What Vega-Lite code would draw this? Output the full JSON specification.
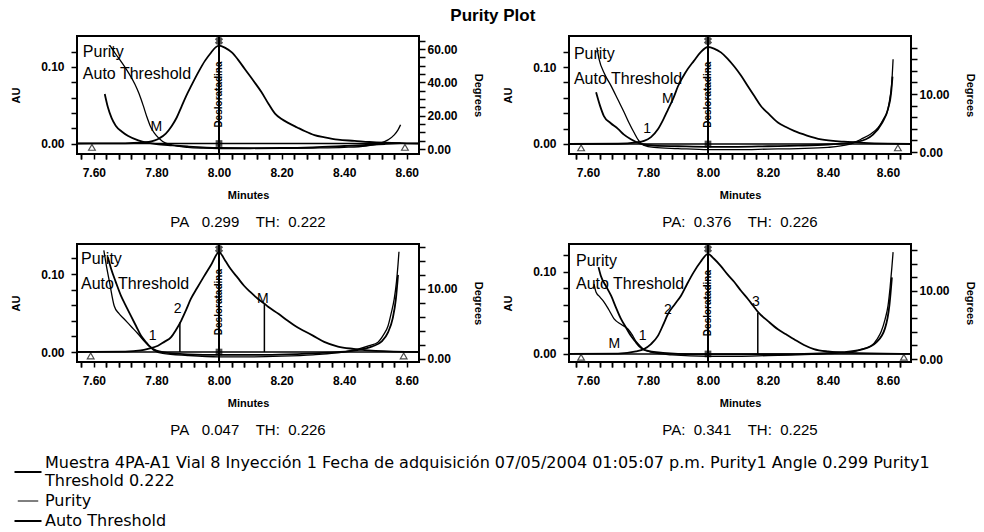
{
  "$schema": "https://vega.github.io/schema/vega-lite/v6.json",
  "background": "white",
  "padding": {"left": 9, "top": 6, "right": 0, "bottom": 0},
  "title": {"text": "Purity Plot", "fontSize": 17, "fontWeight": "bold", "font": "Liberation Sans", "color": "black", "anchor": "middle", "offset": 9},
  "bounds": "flush",
  "columns": 2,
  "spacing": {"row": 90, "column": 150},
  "datasets": {
    "chrom": [
      {"p":1,"t":7.546,"v":0},{"p":1,"t":7.7,"v":0.0003},{"p":1,"t":7.75,"v":0.001},{"p":1,"t":7.775,"v":0.002},{"p":1,"t":7.795,"v":0.004},{"p":1,"t":7.81,"v":0.007},{"p":1,"t":7.83,"v":0.013},{"p":1,"t":7.849,"v":0.023},{"p":1,"t":7.865,"v":0.034},{"p":1,"t":7.88,"v":0.048},{"p":1,"t":7.895,"v":0.062},{"p":1,"t":7.912,"v":0.076},{"p":1,"t":7.935,"v":0.094},{"p":1,"t":7.955,"v":0.108},{"p":1,"t":7.975,"v":0.119},{"p":1,"t":7.99,"v":0.126},{"p":1,"t":8.0,"v":0.128},{"p":1,"t":8.02,"v":0.125},{"p":1,"t":8.041,"v":0.119},{"p":1,"t":8.06,"v":0.11},{"p":1,"t":8.083,"v":0.097},{"p":1,"t":8.11,"v":0.082},{"p":1,"t":8.136,"v":0.067},{"p":1,"t":8.158,"v":0.052},{"p":1,"t":8.179,"v":0.039},{"p":1,"t":8.2,"v":0.032},{"p":1,"t":8.221,"v":0.027},{"p":1,"t":8.25,"v":0.021},{"p":1,"t":8.275,"v":0.016},{"p":1,"t":8.305,"v":0.011},{"p":1,"t":8.338,"v":0.008},{"p":1,"t":8.38,"v":0.005},{"p":1,"t":8.433,"v":0.0035},{"p":1,"t":8.48,"v":0.002},{"p":1,"t":8.53,"v":0.001},{"p":1,"t":8.6,"v":0.0003},{"p":1,"t":8.639,"v":0},
      {"p":2,"t":7.537,"v":0},{"p":2,"t":7.7,"v":0.0003},{"p":2,"t":7.76,"v":0.002},{"p":2,"t":7.787,"v":0.004},{"p":2,"t":7.81,"v":0.009},{"p":2,"t":7.833,"v":0.019},{"p":2,"t":7.85,"v":0.031},{"p":2,"t":7.867,"v":0.045},{"p":2,"t":7.885,"v":0.06},{"p":2,"t":7.9,"v":0.075},{"p":2,"t":7.925,"v":0.093},{"p":2,"t":7.953,"v":0.108},{"p":2,"t":7.975,"v":0.119},{"p":2,"t":8.0,"v":0.126},{"p":2,"t":8.02,"v":0.124},{"p":2,"t":8.043,"v":0.119},{"p":2,"t":8.065,"v":0.111},{"p":2,"t":8.087,"v":0.101},{"p":2,"t":8.11,"v":0.089},{"p":2,"t":8.133,"v":0.075},{"p":2,"t":8.155,"v":0.062},{"p":2,"t":8.177,"v":0.049},{"p":2,"t":8.2,"v":0.04},{"p":2,"t":8.233,"v":0.028},{"p":2,"t":8.26,"v":0.022},{"p":2,"t":8.287,"v":0.017},{"p":2,"t":8.33,"v":0.011},{"p":2,"t":8.377,"v":0.006},{"p":2,"t":8.453,"v":0.003},{"p":2,"t":8.52,"v":0.0015},{"p":2,"t":8.6,"v":0.0005},{"p":2,"t":8.677,"v":0},
      {"p":3,"t":7.546,"v":0},{"p":3,"t":7.7,"v":0.0005},{"p":3,"t":7.75,"v":0.002},{"p":3,"t":7.773,"v":0.004},{"p":3,"t":7.805,"v":0.008},{"p":3,"t":7.825,"v":0.013},{"p":3,"t":7.847,"v":0.019},{"p":3,"t":7.862,"v":0.028},{"p":3,"t":7.879,"v":0.04},{"p":3,"t":7.895,"v":0.054},{"p":3,"t":7.91,"v":0.068},{"p":3,"t":7.93,"v":0.082},{"p":3,"t":7.952,"v":0.097},{"p":3,"t":7.975,"v":0.112},{"p":3,"t":8.0,"v":0.128},{"p":3,"t":8.02,"v":0.117},{"p":3,"t":8.038,"v":0.106},{"p":3,"t":8.06,"v":0.095},{"p":3,"t":8.08,"v":0.085},{"p":3,"t":8.1,"v":0.077},{"p":3,"t":8.125,"v":0.068},{"p":3,"t":8.145,"v":0.062},{"p":3,"t":8.157,"v":0.058},{"p":3,"t":8.19,"v":0.049},{"p":3,"t":8.22,"v":0.04},{"p":3,"t":8.245,"v":0.033},{"p":3,"t":8.272,"v":0.027},{"p":3,"t":8.3,"v":0.021},{"p":3,"t":8.336,"v":0.013},{"p":3,"t":8.38,"v":0.007},{"p":3,"t":8.43,"v":0.004},{"p":3,"t":8.5,"v":0.0015},{"p":3,"t":8.639,"v":0},
      {"p":4,"t":7.537,"v":0},{"p":4,"t":7.7,"v":0.0005},{"p":4,"t":7.76,"v":0.003},{"p":4,"t":7.787,"v":0.006},{"p":4,"t":7.81,"v":0.012},{"p":4,"t":7.833,"v":0.022},{"p":4,"t":7.85,"v":0.035},{"p":4,"t":7.867,"v":0.049},{"p":4,"t":7.89,"v":0.061},{"p":4,"t":7.91,"v":0.071},{"p":4,"t":7.93,"v":0.085},{"p":4,"t":7.953,"v":0.1},{"p":4,"t":7.975,"v":0.112},{"p":4,"t":8.0,"v":0.122},{"p":4,"t":8.02,"v":0.116},{"p":4,"t":8.043,"v":0.107},{"p":4,"t":8.065,"v":0.097},{"p":4,"t":8.087,"v":0.088},{"p":4,"t":8.11,"v":0.077},{"p":4,"t":8.133,"v":0.067},{"p":4,"t":8.15,"v":0.059},{"p":4,"t":8.167,"v":0.051},{"p":4,"t":8.2,"v":0.04},{"p":4,"t":8.233,"v":0.03},{"p":4,"t":8.26,"v":0.024},{"p":4,"t":8.287,"v":0.018},{"p":4,"t":8.32,"v":0.011},{"p":4,"t":8.353,"v":0.006},{"p":4,"t":8.4,"v":0.003},{"p":4,"t":8.48,"v":0.0012},{"p":4,"t":8.677,"v":0}
    ],
    "angles": [
      {"p":1,"s":"Purity","t":7.652,"v":62},{"p":1,"s":"Purity","t":7.67,"v":57},{"p":1,"s":"Purity","t":7.689,"v":52},{"p":1,"s":"Purity","t":7.71,"v":46},{"p":1,"s":"Purity","t":7.731,"v":39},{"p":1,"s":"Purity","t":7.745,"v":33},{"p":1,"s":"Purity","t":7.758,"v":26},{"p":1,"s":"Purity","t":7.77,"v":19},{"p":1,"s":"Purity","t":7.78,"v":14},{"p":1,"s":"Purity","t":7.79,"v":10.5},{"p":1,"s":"Purity","t":7.8,"v":8},{"p":1,"s":"Purity","t":7.82,"v":4.5},{"p":1,"s":"Purity","t":7.85,"v":2.4},{"p":1,"s":"Purity","t":7.9,"v":1.0},{"p":1,"s":"Purity","t":7.95,"v":0.5},{"p":1,"s":"Purity","t":8.0,"v":0.3},{"p":1,"s":"Purity","t":8.1,"v":0.3},{"p":1,"s":"Purity","t":8.2,"v":0.4},{"p":1,"s":"Purity","t":8.3,"v":0.6},{"p":1,"s":"Purity","t":8.4,"v":1.0},{"p":1,"s":"Purity","t":8.47,"v":1.8},{"p":1,"s":"Purity","t":8.51,"v":3.2},{"p":1,"s":"Purity","t":8.54,"v":5.5},{"p":1,"s":"Purity","t":8.56,"v":8.5},{"p":1,"s":"Purity","t":8.572,"v":11.5},{"p":1,"s":"Purity","t":8.58,"v":14.5},
      {"p":1,"s":"Auto Threshold","t":7.635,"v":33},{"p":1,"s":"Auto Threshold","t":7.645,"v":25},{"p":1,"s":"Auto Threshold","t":7.657,"v":18.5},{"p":1,"s":"Auto Threshold","t":7.67,"v":14},{"p":1,"s":"Auto Threshold","t":7.689,"v":10.5},{"p":1,"s":"Auto Threshold","t":7.71,"v":7.8},{"p":1,"s":"Auto Threshold","t":7.742,"v":5.2},{"p":1,"s":"Auto Threshold","t":7.77,"v":3.8},{"p":1,"s":"Auto Threshold","t":7.8,"v":3.0},{"p":1,"s":"Auto Threshold","t":7.85,"v":2.2},{"p":1,"s":"Auto Threshold","t":7.9,"v":1.5},{"p":1,"s":"Auto Threshold","t":8.0,"v":0.6},{"p":1,"s":"Auto Threshold","t":8.1,"v":0.5},{"p":1,"s":"Auto Threshold","t":8.2,"v":0.6},{"p":1,"s":"Auto Threshold","t":8.3,"v":1.0},{"p":1,"s":"Auto Threshold","t":8.4,"v":1.8},{"p":1,"s":"Auto Threshold","t":8.47,"v":2.4},{"p":1,"s":"Auto Threshold","t":8.53,"v":3.0},{"p":1,"s":"Auto Threshold","t":8.58,"v":3.5},
      {"p":2,"s":"Purity","t":7.63,"v":18},{"p":2,"s":"Purity","t":7.637,"v":16},{"p":2,"s":"Purity","t":7.655,"v":13.5},{"p":2,"s":"Purity","t":7.677,"v":11.4},{"p":2,"s":"Purity","t":7.7,"v":9},{"p":2,"s":"Purity","t":7.72,"v":6.9},{"p":2,"s":"Purity","t":7.737,"v":5},{"p":2,"s":"Purity","t":7.753,"v":3.4},{"p":2,"s":"Purity","t":7.77,"v":1.9},{"p":2,"s":"Purity","t":7.785,"v":1.2},{"p":2,"s":"Purity","t":7.82,"v":0.8},{"p":2,"s":"Purity","t":7.9,"v":0.6},{"p":2,"s":"Purity","t":8.0,"v":0.4},{"p":2,"s":"Purity","t":8.1,"v":0.4},{"p":2,"s":"Purity","t":8.2,"v":0.5},{"p":2,"s":"Purity","t":8.3,"v":0.6},{"p":2,"s":"Purity","t":8.4,"v":0.8},{"p":2,"s":"Purity","t":8.47,"v":1.3},{"p":2,"s":"Purity","t":8.51,"v":2.2},{"p":2,"s":"Purity","t":8.545,"v":3.2},{"p":2,"s":"Purity","t":8.567,"v":4.2},{"p":2,"s":"Purity","t":8.585,"v":5.7},{"p":2,"s":"Purity","t":8.6,"v":7.4},{"p":2,"s":"Purity","t":8.607,"v":9.5},{"p":2,"s":"Purity","t":8.612,"v":11.5},{"p":2,"s":"Purity","t":8.617,"v":16},
      {"p":2,"s":"Auto Threshold","t":7.627,"v":10.3},{"p":2,"s":"Auto Threshold","t":7.64,"v":8},{"p":2,"s":"Auto Threshold","t":7.653,"v":6.2},{"p":2,"s":"Auto Threshold","t":7.675,"v":5},{"p":2,"s":"Auto Threshold","t":7.7,"v":4},{"p":2,"s":"Auto Threshold","t":7.72,"v":3},{"p":2,"s":"Auto Threshold","t":7.743,"v":2.2},{"p":2,"s":"Auto Threshold","t":7.777,"v":1.4},{"p":2,"s":"Auto Threshold","t":7.82,"v":1.1},{"p":2,"s":"Auto Threshold","t":7.9,"v":1.0},{"p":2,"s":"Auto Threshold","t":8.0,"v":0.9},{"p":2,"s":"Auto Threshold","t":8.1,"v":0.9},{"p":2,"s":"Auto Threshold","t":8.2,"v":1.0},{"p":2,"s":"Auto Threshold","t":8.3,"v":1.1},{"p":2,"s":"Auto Threshold","t":8.4,"v":1.3},{"p":2,"s":"Auto Threshold","t":8.5,"v":1.8},{"p":2,"s":"Auto Threshold","t":8.55,"v":3.0},{"p":2,"s":"Auto Threshold","t":8.58,"v":5.0},{"p":2,"s":"Auto Threshold","t":8.6,"v":7.4},{"p":2,"s":"Auto Threshold","t":8.61,"v":10},{"p":2,"s":"Auto Threshold","t":8.615,"v":13},
      {"p":3,"s":"Purity","t":7.632,"v":15.5},{"p":3,"s":"Purity","t":7.639,"v":13.6},{"p":3,"s":"Purity","t":7.65,"v":11},{"p":3,"s":"Purity","t":7.665,"v":7.6},{"p":3,"s":"Purity","t":7.68,"v":6.5},{"p":3,"s":"Purity","t":7.697,"v":5.7},{"p":3,"s":"Purity","t":7.72,"v":4.6},{"p":3,"s":"Purity","t":7.741,"v":3.6},{"p":3,"s":"Purity","t":7.76,"v":2.6},{"p":3,"s":"Purity","t":7.773,"v":2.0},{"p":3,"s":"Purity","t":7.79,"v":1.3},{"p":3,"s":"Purity","t":7.82,"v":0.8},{"p":3,"s":"Purity","t":7.9,"v":0.5},{"p":3,"s":"Purity","t":8.0,"v":0.3},{"p":3,"s":"Purity","t":8.1,"v":0.3},{"p":3,"s":"Purity","t":8.2,"v":0.4},{"p":3,"s":"Purity","t":8.3,"v":0.6},{"p":3,"s":"Purity","t":8.4,"v":1.0},{"p":3,"s":"Purity","t":8.444,"v":1.4},{"p":3,"s":"Purity","t":8.48,"v":1.9},{"p":3,"s":"Purity","t":8.508,"v":2.4},{"p":3,"s":"Purity","t":8.525,"v":3.4},{"p":3,"s":"Purity","t":8.54,"v":4.7},{"p":3,"s":"Purity","t":8.55,"v":6.5},{"p":3,"s":"Purity","t":8.56,"v":8.6},{"p":3,"s":"Purity","t":8.567,"v":11},{"p":3,"s":"Purity","t":8.572,"v":13.5},{"p":3,"s":"Purity","t":8.575,"v":15.3},
      {"p":3,"s":"Auto Threshold","t":7.645,"v":14.5},{"p":3,"s":"Auto Threshold","t":7.655,"v":12.9},{"p":3,"s":"Auto Threshold","t":7.67,"v":11},{"p":3,"s":"Auto Threshold","t":7.687,"v":9},{"p":3,"s":"Auto Threshold","t":7.7,"v":7.8},{"p":3,"s":"Auto Threshold","t":7.719,"v":6.1},{"p":3,"s":"Auto Threshold","t":7.735,"v":4.7},{"p":3,"s":"Auto Threshold","t":7.751,"v":3.3},{"p":3,"s":"Auto Threshold","t":7.765,"v":2.5},{"p":3,"s":"Auto Threshold","t":7.776,"v":1.9},{"p":3,"s":"Auto Threshold","t":7.8,"v":1.2},{"p":3,"s":"Auto Threshold","t":7.85,"v":0.8},{"p":3,"s":"Auto Threshold","t":7.95,"v":0.6},{"p":3,"s":"Auto Threshold","t":8.05,"v":0.6},{"p":3,"s":"Auto Threshold","t":8.15,"v":0.6},{"p":3,"s":"Auto Threshold","t":8.25,"v":0.7},{"p":3,"s":"Auto Threshold","t":8.35,"v":0.9},{"p":3,"s":"Auto Threshold","t":8.43,"v":1.2},{"p":3,"s":"Auto Threshold","t":8.49,"v":1.8},{"p":3,"s":"Auto Threshold","t":8.52,"v":2.5},{"p":3,"s":"Auto Threshold","t":8.54,"v":3.8},{"p":3,"s":"Auto Threshold","t":8.555,"v":5.8},{"p":3,"s":"Auto Threshold","t":8.565,"v":8.5},{"p":3,"s":"Auto Threshold","t":8.572,"v":12},
      {"p":4,"s":"Purity","t":7.62,"v":11},{"p":4,"s":"Purity","t":7.627,"v":9.8},{"p":4,"s":"Purity","t":7.64,"v":9.1},{"p":4,"s":"Purity","t":7.653,"v":8.4},{"p":4,"s":"Purity","t":7.67,"v":7.2},{"p":4,"s":"Purity","t":7.687,"v":5.9},{"p":4,"s":"Purity","t":7.71,"v":5.1},{"p":4,"s":"Purity","t":7.733,"v":4.4},{"p":4,"s":"Purity","t":7.748,"v":3.5},{"p":4,"s":"Purity","t":7.76,"v":2.6},{"p":4,"s":"Purity","t":7.772,"v":2.0},{"p":4,"s":"Purity","t":7.783,"v":1.5},{"p":4,"s":"Purity","t":7.81,"v":1.0},{"p":4,"s":"Purity","t":7.88,"v":0.6},{"p":4,"s":"Purity","t":8.0,"v":0.4},{"p":4,"s":"Purity","t":8.1,"v":0.4},{"p":4,"s":"Purity","t":8.2,"v":0.5},{"p":4,"s":"Purity","t":8.3,"v":0.6},{"p":4,"s":"Purity","t":8.4,"v":0.8},{"p":4,"s":"Purity","t":8.477,"v":1.0},{"p":4,"s":"Purity","t":8.51,"v":1.4},{"p":4,"s":"Purity","t":8.543,"v":1.9},{"p":4,"s":"Purity","t":8.565,"v":3.0},{"p":4,"s":"Purity","t":8.577,"v":4.0},{"p":4,"s":"Purity","t":8.59,"v":5.8},{"p":4,"s":"Purity","t":8.6,"v":7.8},{"p":4,"s":"Purity","t":8.607,"v":10.5},{"p":4,"s":"Purity","t":8.613,"v":13.5},{"p":4,"s":"Purity","t":8.617,"v":15.7},
      {"p":4,"s":"Auto Threshold","t":7.635,"v":13.5},{"p":4,"s":"Auto Threshold","t":7.643,"v":12.2},{"p":4,"s":"Auto Threshold","t":7.66,"v":10.7},{"p":4,"s":"Auto Threshold","t":7.677,"v":9.3},{"p":4,"s":"Auto Threshold","t":7.693,"v":7.6},{"p":4,"s":"Auto Threshold","t":7.71,"v":5.9},{"p":4,"s":"Auto Threshold","t":7.727,"v":4.6},{"p":4,"s":"Auto Threshold","t":7.743,"v":3.4},{"p":4,"s":"Auto Threshold","t":7.757,"v":2.6},{"p":4,"s":"Auto Threshold","t":7.77,"v":1.9},{"p":4,"s":"Auto Threshold","t":7.79,"v":1.3},{"p":4,"s":"Auto Threshold","t":7.85,"v":0.9},{"p":4,"s":"Auto Threshold","t":7.95,"v":0.7},{"p":4,"s":"Auto Threshold","t":8.05,"v":0.7},{"p":4,"s":"Auto Threshold","t":8.15,"v":0.7},{"p":4,"s":"Auto Threshold","t":8.25,"v":0.7},{"p":4,"s":"Auto Threshold","t":8.35,"v":0.8},{"p":4,"s":"Auto Threshold","t":8.45,"v":1.0},{"p":4,"s":"Auto Threshold","t":8.52,"v":1.5},{"p":4,"s":"Auto Threshold","t":8.56,"v":2.4},{"p":4,"s":"Auto Threshold","t":8.59,"v":4.5},{"p":4,"s":"Auto Threshold","t":8.605,"v":8},{"p":4,"s":"Auto Threshold","t":8.613,"v":12}
    ],
    "tags": [
      {"p":1,"t":7.8,"v":0.0212,"txt":"M"},
      {"p":2,"t":7.797,"v":0.0195,"txt":"1"},{"p":2,"t":7.866,"v":0.058,"txt":"M"},
      {"p":3,"t":7.788,"v":0.021,"txt":"1"},{"p":3,"t":7.868,"v":0.055,"txt":"2"},{"p":3,"t":8.14,"v":0.068,"txt":"M"},
      {"p":4,"t":7.782,"v":0.0223,"txt":"1"},{"p":4,"t":7.866,"v":0.053,"txt":"2"},{"p":4,"t":8.16,"v":0.063,"txt":"3"},{"p":4,"t":7.688,"v":0.012,"txt":"M"}
    ],
    "drops": [
      {"p":3,"t":7.875,"v":0.038},{"p":3,"t":8.145,"v":0.0615},{"p":4,"t":8.166,"v":0.05}
    ],
    "keys": [
      {"p":1,"t":7.565,"v":0.12,"txt":"Purity"},{"p":1,"t":7.565,"v":0.091,"txt":"Auto Threshold"},
      {"p":2,"t":7.553,"v":0.117,"txt":"Purity"},{"p":2,"t":7.553,"v":0.084,"txt":"Auto Threshold"},
      {"p":3,"t":7.559,"v":0.119,"txt":"Purity"},{"p":3,"t":7.559,"v":0.087,"txt":"Auto Threshold"},
      {"p":4,"t":7.56,"v":0.113,"txt":"Purity"},{"p":4,"t":7.56,"v":0.085,"txt":"Auto Threshold"}
    ],
    "ends": [
      {"p":1,"t":7.594},{"p":1,"t":8.594},{"p":2,"t":7.577},{"p":2,"t":8.633},{"p":3,"t":7.59},{"p":3,"t":8.59},{"p":4,"t":7.577},{"p":4,"t":8.653}
    ]
  },
  "concat": [
    {
      "width": 342, "height": 118,
      "title": {"text": "PA\u00a0\u00a0 0.299\u00a0\u00a0\u00a0 TH:\u00a0 0.222", "orient": "bottom", "anchor": "middle", "offset": 15, "fontSize": 15, "fontWeight": "normal", "font": "Liberation Sans", "color": "black"},
      "resolve": {"scale": {"y": "independent"}, "axis": {"x": "independent"}},
      "layer": [
        {
          "layer": [
            {
              "data": {"name": "chrom"}, "transform": [{"filter": "datum.p == 1"}],
              "mark": {"type": "line", "strokeWidth": 1.8, "interpolate": "monotone", "clip": true},
              "encoding": {
                "x": {"field": "t", "type": "quantitative", "scale": {"domain": [7.5463, 8.639], "nice": false, "zero": false},
                  "axis": {"title": "Minutes", "orient": "bottom", "values": [7.6,7.8,8.0,8.2,8.4,8.6], "format": ".2f", "labelOverlap": false, "tickSize": 5, "labelPadding": 8, "titlePadding": 11}},
                "y": {"field": "v", "type": "quantitative", "scale": {"domain": [-0.0137, 0.1405], "nice": false, "zero": false},
                  "axis": {"title": "AU", "orient": "left", "values": [0, 0.1], "format": ".2f", "labelOverlap": false, "tickSize": 6, "labelPadding": 7, "titlePadding": 19}},
                "stroke": {"datum": "Muestra 4PA-A1 Vial 8 Inyección 1 Fecha de adquisición 07/05/2004 01:05:07 p.m. Purity1 Angle 0.299 Purity1 Threshold 0.222", "type": "nominal", "title": null,
                  "scale": {"domain": ["Muestra 4PA-A1 Vial 8 Inyección 1 Fecha de adquisición 07/05/2004 01:05:07 p.m. Purity1 Angle 0.299 Purity1 Threshold 0.222", "Purity", "Auto Threshold"], "range": ["black", "black", "black"]},
                  "legend": {"title": null, "orient": "none", "legendX": -57, "legendY": 428, "symbolType": "stroke", "symbolSize": 729, "symbolStrokeWidth": 2, "symbolStrokeColor": "black", "labelFont": "DejaVu Sans", "labelFontSize": 16, "labelColor": "black", "labelLimit": 1200, "labelOffset": 9, "rowPadding": 4,
                    "labelExpr": "datum.label == 'Purity' || datum.label == 'Auto Threshold' ? datum.label : [slice(datum.label, 0, length(datum.label) - 16), 'Threshold 0.222']",
                    "encode": {"labels": {"update": {"lineHeight": {"value": 18}, "dy": {"signal": "datum.value == 'Purity' || datum.value == 'Auto Threshold' ? 0 : -9"}}}, "symbols": {"update": {"strokeWidth": {"signal": "datum.value == 'Purity' ? 1 : 2"}, "size": {"signal": "datum.value == 'Purity' ? 420 : 729"}}}}}}
              }
            },
            {"data": {"values": [{}]}, "mark": {"type": "rule", "strokeWidth": 1.5, "color": "black"}, "encoding": {"y": {"datum": 0}}},
            {"data": {"values": [{}]}, "mark": {"type": "rule", "strokeWidth": 2, "color": "black"}, "encoding": {"x": {"datum": 8.0}}},
            {"data": {"values": [{}]}, "mark": {"type": "text", "angle": 270, "fontSize": 10, "fontWeight": "bold", "font": "Liberation Sans", "color": "black", "baseline": "middle"}, "encoding": {"x": {"datum": 8.0}, "y": {"datum": 0.064}, "text": {"value": "Desloratadina"}}},
            {"data": {"values": [{}]}, "mark": {"type": "point", "shape": "cross", "angle": 45, "size": 70, "filled": true, "color": "black"}, "encoding": {"x": {"datum": 8.0}, "y": {"datum": 0.134}}},
            {"data": {"values": [{}]}, "mark": {"type": "square", "size": 45, "color": "black"}, "encoding": {"x": {"datum": 8.0}, "y": {"datum": 0.0}}},
            {"data": {"name": "tags"}, "transform": [{"filter": "datum.p == 1"}], "mark": {"type": "text", "fontSize": 14, "font": "Liberation Sans", "color": "black"}, "encoding": {"x": {"field": "t", "type": "quantitative"}, "y": {"field": "v", "type": "quantitative"}, "text": {"field": "txt"}}},
            {"data": {"name": "keys"}, "transform": [{"filter": "datum.p == 1"}], "mark": {"type": "text", "fontSize": 16, "font": "Liberation Sans", "color": "black", "align": "left", "baseline": "middle"}, "encoding": {"x": {"field": "t", "type": "quantitative"}, "y": {"field": "v", "type": "quantitative"}, "text": {"field": "txt"}}}
          ]
        },
        {
          "layer": [
            {
              "data": {"name": "angles"}, "transform": [{"filter": "datum.p == 1"}],
              "mark": {"type": "line", "interpolate": "monotone", "clip": true},
              "encoding": {
                "x": {"field": "t", "type": "quantitative", "axis": {"orient": "bottom", "title": null, "labels": false, "tickSize": 5, "values": [7.56,7.64,7.68,7.72,7.76,7.84,7.88,7.92,7.96,8.04,8.08,8.12,8.16,8.24,8.28,8.32,8.36,8.44,8.48,8.52,8.56]}},
                "y": {"field": "v", "type": "quantitative", "scale": {"domain": [-3.0, 67.8], "nice": false, "zero": false},
                  "axis": {"title": "Degrees", "orient": "right", "values": [0,5,10,15,20,25,30,35,40,45,50,55,60,65], "labelExpr": "datum.value % 20 == 0 ? format(datum.value, '.2f') : ''", "labelOverlap": false, "tickSize": 6, "labelPadding": 2, "titlePadding": 15}},
                "stroke": {"field": "s", "type": "nominal", "title": null},
                "strokeWidth": {"field": "s", "type": "nominal", "scale": {"domain": ["Purity", "Auto Threshold"], "range": [1.3, 1.8]}, "legend": null}
              }
            }
          ]
        },
        {
          "data": {"name": "ends"}, "transform": [{"filter": "datum.p == 1"}],
          "mark": {"type": "point", "shape": "triangle-up", "size": 45, "filled": true, "fill": "white", "stroke": "black", "strokeWidth": 1.2},
          "encoding": {
            "x": {"field": "t", "type": "quantitative", "axis": {"orient": "bottom", "title": null, "labels": false, "tickSize": 5, "values": [7.56,7.64,7.68,7.72,7.76,7.84,7.88,7.92,7.96,8.04,8.08,8.12,8.16,8.24,8.28,8.32,8.36,8.44,8.48,8.52,8.56]}},
            "y": {"datum": -0.005, "scale": {"domain": [-0.0137, 0.1405], "nice": false, "zero": false}, "axis": {"orient": "left", "title": null, "labels": false, "tickSize": 6, "values": [0.02, 0.04, 0.06, 0.08, 0.12]}}
          }
        }
      ]
    },
    {
      "width": 342, "height": 118,
      "title": {"text": "PA:\u00a0 0.376\u00a0\u00a0\u00a0 TH:\u00a0 0.226", "orient": "bottom", "anchor": "middle", "offset": 15, "fontSize": 15, "fontWeight": "normal", "font": "Liberation Sans", "color": "black"},
      "resolve": {"scale": {"y": "independent"}, "axis": {"x": "independent"}},
      "layer": [
        {
          "layer": [
            {
              "data": {"name": "chrom"}, "transform": [{"filter": "datum.p == 2"}],
              "mark": {"type": "line", "strokeWidth": 1.8, "interpolate": "monotone", "clip": true},
              "encoding": {
                "x": {"field": "t", "type": "quantitative", "scale": {"domain": [7.5367, 8.6767], "nice": false, "zero": false},
                  "axis": {"title": "Minutes", "orient": "bottom", "values": [7.6,7.8,8.0,8.2,8.4,8.6], "format": ".2f", "labelOverlap": false, "tickSize": 5, "labelPadding": 8, "titlePadding": 11}},
                "y": {"field": "v", "type": "quantitative", "scale": {"domain": [-0.013, 0.1403], "nice": false, "zero": false},
                  "axis": {"title": "AU", "orient": "left", "values": [0, 0.1], "format": ".2f", "labelOverlap": false, "tickSize": 6, "labelPadding": 7, "titlePadding": 19}},
                "stroke": {"datum": "Muestra 4PA-A1 Vial 8 Inyección 1 Fecha de adquisición 07/05/2004 01:05:07 p.m. Purity1 Angle 0.299 Purity1 Threshold 0.222", "type": "nominal", "title": null}
              }
            },
            {"data": {"values": [{}]}, "mark": {"type": "rule", "strokeWidth": 1.5, "color": "black"}, "encoding": {"y": {"datum": 0}}},
            {"data": {"values": [{}]}, "mark": {"type": "rule", "strokeWidth": 2, "color": "black"}, "encoding": {"x": {"datum": 8.0}}},
            {"data": {"values": [{}]}, "mark": {"type": "text", "angle": 270, "fontSize": 10, "fontWeight": "bold", "font": "Liberation Sans", "color": "black", "baseline": "middle"}, "encoding": {"x": {"datum": 8.0}, "y": {"datum": 0.064}, "text": {"value": "Desloratadina"}}},
            {"data": {"values": [{}]}, "mark": {"type": "point", "shape": "cross", "angle": 45, "size": 70, "filled": true, "color": "black"}, "encoding": {"x": {"datum": 8.0}, "y": {"datum": 0.134}}},
            {"data": {"values": [{}]}, "mark": {"type": "square", "size": 45, "color": "black"}, "encoding": {"x": {"datum": 8.0}, "y": {"datum": 0.0}}},
            {"data": {"name": "tags"}, "transform": [{"filter": "datum.p == 2"}], "mark": {"type": "text", "fontSize": 14, "font": "Liberation Sans", "color": "black"}, "encoding": {"x": {"field": "t", "type": "quantitative"}, "y": {"field": "v", "type": "quantitative"}, "text": {"field": "txt"}}},
            {"data": {"name": "keys"}, "transform": [{"filter": "datum.p == 2"}], "mark": {"type": "text", "fontSize": 16, "font": "Liberation Sans", "color": "black", "align": "left", "baseline": "middle"}, "encoding": {"x": {"field": "t", "type": "quantitative"}, "y": {"field": "v", "type": "quantitative"}, "text": {"field": "txt"}}}
          ]
        },
        {
          "layer": [
            {
              "data": {"name": "angles"}, "transform": [{"filter": "datum.p == 2"}],
              "mark": {"type": "line", "interpolate": "monotone", "clip": true},
              "encoding": {
                "x": {"field": "t", "type": "quantitative", "axis": {"orient": "bottom", "title": null, "labels": false, "tickSize": 5, "values": [7.56,7.64,7.68,7.72,7.76,7.84,7.88,7.92,7.96,8.04,8.08,8.12,8.16,8.24,8.28,8.32,8.36,8.44,8.48,8.52,8.56,8.64]}},
                "y": {"field": "v", "type": "quantitative", "scale": {"domain": [-0.34, 20.0], "nice": false, "zero": false},
                  "axis": {"title": "Degrees", "orient": "right", "values": [0,2,4,6,8,10,12,14,16,18], "labelExpr": "datum.value % 10 == 0 ? format(datum.value, '.2f') : ''", "labelOverlap": false, "tickSize": 6, "labelPadding": 2, "titlePadding": 15}},
                "stroke": {"field": "s", "type": "nominal", "title": null},
                "strokeWidth": {"field": "s", "type": "nominal", "scale": {"domain": ["Purity", "Auto Threshold"], "range": [1.3, 1.8]}, "legend": null}
              }
            }
          ]
        },
        {
          "data": {"name": "ends"}, "transform": [{"filter": "datum.p == 2"}],
          "mark": {"type": "point", "shape": "triangle-up", "size": 45, "filled": true, "fill": "white", "stroke": "black", "strokeWidth": 1.2},
          "encoding": {
            "x": {"field": "t", "type": "quantitative", "axis": {"orient": "bottom", "title": null, "labels": false, "tickSize": 5, "values": [7.56,7.64,7.68,7.72,7.76,7.84,7.88,7.92,7.96,8.04,8.08,8.12,8.16,8.24,8.28,8.32,8.36,8.44,8.48,8.52,8.56,8.64]}},
            "y": {"datum": -0.005, "scale": {"domain": [-0.013, 0.1403], "nice": false, "zero": false}, "axis": {"orient": "left", "title": null, "labels": false, "tickSize": 6, "values": [0.02, 0.04, 0.06, 0.08, 0.12]}}
          }
        }
      ]
    },
    {
      "width": 342, "height": 118,
      "title": {"text": "PA\u00a0\u00a0 0.047\u00a0\u00a0\u00a0 TH:\u00a0 0.226", "orient": "bottom", "anchor": "middle", "offset": 15, "fontSize": 15, "fontWeight": "normal", "font": "Liberation Sans", "color": "black"},
      "resolve": {"scale": {"y": "independent"}, "axis": {"x": "independent"}},
      "layer": [
        {
          "layer": [
            {
              "data": {"name": "chrom"}, "transform": [{"filter": "datum.p == 3"}],
              "mark": {"type": "line", "strokeWidth": 1.8, "interpolate": "monotone", "clip": true},
              "encoding": {
                "x": {"field": "t", "type": "quantitative", "scale": {"domain": [7.5463, 8.639], "nice": false, "zero": false},
                  "axis": {"title": "Minutes", "orient": "bottom", "values": [7.6,7.8,8.0,8.2,8.4,8.6], "format": ".2f", "labelOverlap": false, "tickSize": 5, "labelPadding": 8, "titlePadding": 11}},
                "y": {"field": "v", "type": "quantitative", "scale": {"domain": [-0.0128, 0.1385], "nice": false, "zero": false},
                  "axis": {"title": "AU", "orient": "left", "values": [0, 0.1], "format": ".2f", "labelOverlap": false, "tickSize": 6, "labelPadding": 7, "titlePadding": 19}},
                "stroke": {"datum": "Muestra 4PA-A1 Vial 8 Inyección 1 Fecha de adquisición 07/05/2004 01:05:07 p.m. Purity1 Angle 0.299 Purity1 Threshold 0.222", "type": "nominal", "title": null}
              }
            },
            {"data": {"values": [{}]}, "mark": {"type": "rule", "strokeWidth": 1.5, "color": "black"}, "encoding": {"y": {"datum": 0}}},
            {"data": {"values": [{}]}, "mark": {"type": "rule", "strokeWidth": 2, "color": "black"}, "encoding": {"x": {"datum": 8.0}}},
            {"data": {"values": [{}]}, "mark": {"type": "text", "angle": 270, "fontSize": 10, "fontWeight": "bold", "font": "Liberation Sans", "color": "black", "baseline": "middle"}, "encoding": {"x": {"datum": 8.0}, "y": {"datum": 0.064}, "text": {"value": "Desloratadina"}}},
            {"data": {"values": [{}]}, "mark": {"type": "point", "shape": "cross", "angle": 45, "size": 70, "filled": true, "color": "black"}, "encoding": {"x": {"datum": 8.0}, "y": {"datum": 0.132}}},
            {"data": {"values": [{}]}, "mark": {"type": "square", "size": 45, "color": "black"}, "encoding": {"x": {"datum": 8.0}, "y": {"datum": 0.0}}},
            {"data": {"name": "drops"}, "transform": [{"filter": "datum.p == 3"}], "mark": {"type": "rule", "strokeWidth": 1.5, "color": "black"}, "encoding": {"x": {"field": "t", "type": "quantitative"}, "y": {"field": "v", "type": "quantitative"}, "y2": {"datum": 0}}},
            {"data": {"name": "tags"}, "transform": [{"filter": "datum.p == 3"}], "mark": {"type": "text", "fontSize": 14, "font": "Liberation Sans", "color": "black"}, "encoding": {"x": {"field": "t", "type": "quantitative"}, "y": {"field": "v", "type": "quantitative"}, "text": {"field": "txt"}}},
            {"data": {"name": "keys"}, "transform": [{"filter": "datum.p == 3"}], "mark": {"type": "text", "fontSize": 16, "font": "Liberation Sans", "color": "black", "align": "left", "baseline": "middle"}, "encoding": {"x": {"field": "t", "type": "quantitative"}, "y": {"field": "v", "type": "quantitative"}, "text": {"field": "txt"}}}
          ]
        },
        {
          "layer": [
            {
              "data": {"name": "angles"}, "transform": [{"filter": "datum.p == 3"}],
              "mark": {"type": "line", "interpolate": "monotone", "clip": true},
              "encoding": {
                "x": {"field": "t", "type": "quantitative", "axis": {"orient": "bottom", "title": null, "labels": false, "tickSize": 5, "values": [7.56,7.64,7.68,7.72,7.76,7.84,7.88,7.92,7.96,8.04,8.08,8.12,8.16,8.24,8.28,8.32,8.36,8.44,8.48,8.52,8.56]}},
                "y": {"field": "v", "type": "quantitative", "scale": {"domain": [-0.43, 16.4], "nice": false, "zero": false},
                  "axis": {"title": "Degrees", "orient": "right", "values": [0,2,4,6,8,10,12,14,16], "labelExpr": "datum.value % 10 == 0 ? format(datum.value, '.2f') : ''", "labelOverlap": false, "tickSize": 6, "labelPadding": 2, "titlePadding": 15}},
                "stroke": {"field": "s", "type": "nominal", "title": null},
                "strokeWidth": {"field": "s", "type": "nominal", "scale": {"domain": ["Purity", "Auto Threshold"], "range": [1.3, 1.8]}, "legend": null}
              }
            }
          ]
        },
        {
          "data": {"name": "ends"}, "transform": [{"filter": "datum.p == 3"}],
          "mark": {"type": "point", "shape": "triangle-up", "size": 45, "filled": true, "fill": "white", "stroke": "black", "strokeWidth": 1.2},
          "encoding": {
            "x": {"field": "t", "type": "quantitative", "axis": {"orient": "bottom", "title": null, "labels": false, "tickSize": 5, "values": [7.56,7.64,7.68,7.72,7.76,7.84,7.88,7.92,7.96,8.04,8.08,8.12,8.16,8.24,8.28,8.32,8.36,8.44,8.48,8.52,8.56]}},
            "y": {"datum": -0.005, "scale": {"domain": [-0.0128, 0.1385], "nice": false, "zero": false}, "axis": {"orient": "left", "title": null, "labels": false, "tickSize": 6, "values": [0.02, 0.04, 0.06, 0.08, 0.12]}}
          }
        }
      ]
    },
    {
      "width": 342, "height": 118,
      "title": {"text": "PA:\u00a0 0.341\u00a0\u00a0\u00a0 TH:\u00a0 0.225", "orient": "bottom", "anchor": "middle", "offset": 15, "fontSize": 15, "fontWeight": "normal", "font": "Liberation Sans", "color": "black"},
      "resolve": {"scale": {"y": "independent"}, "axis": {"x": "independent"}},
      "layer": [
        {
          "layer": [
            {
              "data": {"name": "chrom"}, "transform": [{"filter": "datum.p == 4"}],
              "mark": {"type": "line", "strokeWidth": 1.8, "interpolate": "monotone", "clip": true},
              "encoding": {
                "x": {"field": "t", "type": "quantitative", "scale": {"domain": [7.5367, 8.6767], "nice": false, "zero": false},
                  "axis": {"title": "Minutes", "orient": "bottom", "values": [7.6,7.8,8.0,8.2,8.4,8.6], "format": ".2f", "labelOverlap": false, "tickSize": 5, "labelPadding": 8, "titlePadding": 11}},
                "y": {"field": "v", "type": "quantitative", "scale": {"domain": [-0.0098, 0.134], "nice": false, "zero": false},
                  "axis": {"title": "AU", "orient": "left", "values": [0, 0.1], "format": ".2f", "labelOverlap": false, "tickSize": 6, "labelPadding": 7, "titlePadding": 19}},
                "stroke": {"datum": "Muestra 4PA-A1 Vial 8 Inyección 1 Fecha de adquisición 07/05/2004 01:05:07 p.m. Purity1 Angle 0.299 Purity1 Threshold 0.222", "type": "nominal", "title": null}
              }
            },
            {"data": {"values": [{}]}, "mark": {"type": "rule", "strokeWidth": 1.5, "color": "black"}, "encoding": {"y": {"datum": 0}}},
            {"data": {"values": [{}]}, "mark": {"type": "rule", "strokeWidth": 2, "color": "black"}, "encoding": {"x": {"datum": 8.0}}},
            {"data": {"values": [{}]}, "mark": {"type": "text", "angle": 270, "fontSize": 10, "fontWeight": "bold", "font": "Liberation Sans", "color": "black", "baseline": "middle"}, "encoding": {"x": {"datum": 8.0}, "y": {"datum": 0.062}, "text": {"value": "Desloratadina"}}},
            {"data": {"values": [{}]}, "mark": {"type": "point", "shape": "cross", "angle": 45, "size": 70, "filled": true, "color": "black"}, "encoding": {"x": {"datum": 8.0}, "y": {"datum": 0.128}}},
            {"data": {"values": [{}]}, "mark": {"type": "square", "size": 45, "color": "black"}, "encoding": {"x": {"datum": 8.0}, "y": {"datum": 0.0}}},
            {"data": {"name": "drops"}, "transform": [{"filter": "datum.p == 4"}], "mark": {"type": "rule", "strokeWidth": 1.5, "color": "black"}, "encoding": {"x": {"field": "t", "type": "quantitative"}, "y": {"field": "v", "type": "quantitative"}, "y2": {"datum": 0}}},
            {"data": {"name": "tags"}, "transform": [{"filter": "datum.p == 4"}], "mark": {"type": "text", "fontSize": 14, "font": "Liberation Sans", "color": "black"}, "encoding": {"x": {"field": "t", "type": "quantitative"}, "y": {"field": "v", "type": "quantitative"}, "text": {"field": "txt"}}},
            {"data": {"name": "keys"}, "transform": [{"filter": "datum.p == 4"}], "mark": {"type": "text", "fontSize": 16, "font": "Liberation Sans", "color": "black", "align": "left", "baseline": "middle"}, "encoding": {"x": {"field": "t", "type": "quantitative"}, "y": {"field": "v", "type": "quantitative"}, "text": {"field": "txt"}}}
          ]
        },
        {
          "layer": [
            {
              "data": {"name": "angles"}, "transform": [{"filter": "datum.p == 4"}],
              "mark": {"type": "line", "interpolate": "monotone", "clip": true},
              "encoding": {
                "x": {"field": "t", "type": "quantitative", "axis": {"orient": "bottom", "title": null, "labels": false, "tickSize": 5, "values": [7.56,7.64,7.68,7.72,7.76,7.84,7.88,7.92,7.96,8.04,8.08,8.12,8.16,8.24,8.28,8.32,8.36,8.44,8.48,8.52,8.56,8.64]}},
                "y": {"field": "v", "type": "quantitative", "scale": {"domain": [-0.44, 16.9], "nice": false, "zero": false},
                  "axis": {"title": "Degrees", "orient": "right", "values": [0,2,4,6,8,10,12,14,16], "labelExpr": "datum.value % 10 == 0 ? format(datum.value, '.2f') : ''", "labelOverlap": false, "tickSize": 6, "labelPadding": 2, "titlePadding": 15}},
                "stroke": {"field": "s", "type": "nominal", "title": null},
                "strokeWidth": {"field": "s", "type": "nominal", "scale": {"domain": ["Purity", "Auto Threshold"], "range": [1.3, 1.8]}, "legend": null}
              }
            }
          ]
        },
        {
          "data": {"name": "ends"}, "transform": [{"filter": "datum.p == 4"}],
          "mark": {"type": "point", "shape": "triangle-up", "size": 45, "filled": true, "fill": "white", "stroke": "black", "strokeWidth": 1.2},
          "encoding": {
            "x": {"field": "t", "type": "quantitative", "axis": {"orient": "bottom", "title": null, "labels": false, "tickSize": 5, "values": [7.56,7.64,7.68,7.72,7.76,7.84,7.88,7.92,7.96,8.04,8.08,8.12,8.16,8.24,8.28,8.32,8.36,8.44,8.48,8.52,8.56,8.64]}},
            "y": {"datum": -0.004, "scale": {"domain": [-0.0098, 0.134], "nice": false, "zero": false}, "axis": {"orient": "left", "title": null, "labels": false, "tickSize": 6, "values": [0.02, 0.04, 0.06, 0.08, 0.12]}}
          }
        }
      ]
    }
  ],
  "config": {
    "font": "Liberation Sans",
    "view": {"stroke": "black", "strokeWidth": 2},
    "axis": {"domain": false, "grid": false, "tickColor": "black", "tickWidth": 1.5, "labelColor": "black", "labelFont": "Liberation Sans", "labelFontSize": 12, "labelFontWeight": "bold", "titleFont": "Liberation Sans", "titleFontSize": 11, "titleFontWeight": "bold", "titleColor": "black", "labelFlush": false, "labelOverlap": false, "labelBound": false}
  }
}
